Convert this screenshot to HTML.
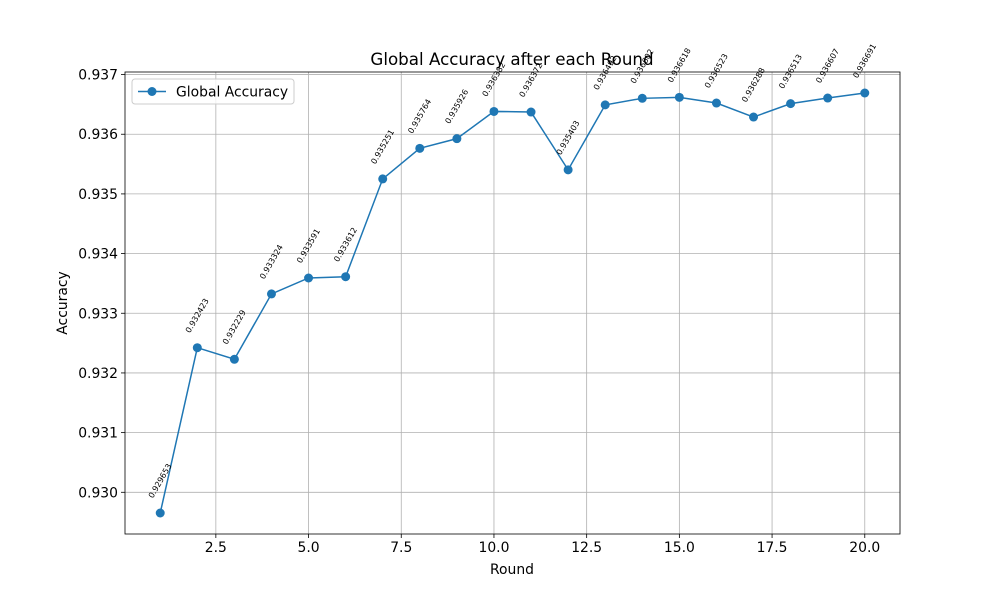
<!DOCTYPE html>
<html><head><meta charset="utf-8"><style>body{margin:0;background:#fff}svg{display:block;font-family:"DejaVu Sans","Liberation Sans",sans-serif}</style></head>
<body>
<svg id="chart" width="1000" height="600" viewBox="0 0 1000 600"></svg>
<script>
const rounds=[1,2,3,4,5,6,7,8,9,10,11,12,13,14,15,16,17,18,19,20];
const accuracy=[0.929653,0.932423,0.932229,0.933324,0.933591,0.933612,0.935251,0.935764,0.935926,0.936382,0.936372,0.935403,0.936492,0.936602,0.936618,0.936523,0.936288,0.936513,0.936607,0.936691];
const xTicks=[2.5,5.0,7.5,10.0,12.5,15.0,17.5,20.0];
const yTicks=[0.930,0.931,0.932,0.933,0.934,0.935,0.936,0.937];
const L=125,R=900,T=72,B=534;
const xMin=0.05,xMax=20.95;
const lo=Math.min(...accuracy),hi=Math.max(...accuracy),m=(hi-lo)*0.05;
const yMin=lo-m,yMax=hi+m;
const xs=v=>L+(v-xMin)/(xMax-xMin)*(R-L);
const ys=v=>B-(v-yMin)/(yMax-yMin)*(B-T);
const svg=document.getElementById('chart');
const NS='http://www.w3.org/2000/svg';
function mk(tag,attrs,parent){const e=document.createElementNS(NS,tag);for(const k in attrs)e.setAttribute(k,attrs[k]);(parent||svg).appendChild(e);return e;}
let e;
xTicks.forEach(t=>{const x=xs(t);
e=mk('line',{x1:x,x2:x,y1:T,y2:B,stroke:'#b0b0b0','stroke-width':0.8});


e=mk('line',{x1:x,x2:x,y1:B,y2:B+4,stroke:'#000','stroke-width':0.8});


e=mk('text',{x:x,y:B+18,'text-anchor':'middle','font-size':13.9});e.textContent=t.toFixed(1);

});
yTicks.forEach(t=>{const y=ys(t);
e=mk('line',{x1:L,x2:R,y1:y,y2:y,stroke:'#b0b0b0','stroke-width':0.8});


e=mk('line',{x1:L-4,x2:L,y1:y,y2:y,stroke:'#000','stroke-width':0.8});


e=mk('text',{x:L-7,y:y+5,'text-anchor':'end','font-size':13.9});e.textContent=t.toFixed(3);

});
e=mk('rect',{x:L,y:T,width:R-L,height:B-T,fill:'none',stroke:'#000','stroke-width':0.8});


e=mk('polyline',{points:rounds.map((r,i)=>xs(r)+','+ys(accuracy[i])).join(' '),fill:'none',stroke:'#1f77b4','stroke-width':1.5});


rounds.forEach((r,i)=>{const x=xs(r),y=ys(accuracy[i]);
e=mk('circle',{cx:x,cy:y,r:4.5,fill:'#1f77b4'});


const cy=y-32;
e=mk('text',{x:x,y:cy+2.5,'text-anchor':'middle','font-size':8,transform:`rotate(-60 ${x} ${cy})`});
e.textContent=accuracy[i].toFixed(6);

});
e=mk('text',{x:512,y:65,'text-anchor':'middle','font-size':16.7});e.textContent='Global Accuracy after each Round';


e=mk('text',{x:512,y:574,'text-anchor':'middle','font-size':13.9});e.textContent='Round';


e=mk('text',{x:0,y:0,'text-anchor':'middle','font-size':13.9,transform:'translate(67 303) rotate(-90)'});e.textContent='Accuracy';


const g=mk('g',{});


mk('rect',{x:132,y:79,width:162,height:25,rx:3,fill:'#fff','fill-opacity':0.8,stroke:'#ccc'},g);
mk('line',{x1:138,x2:166,y1:91.5,y2:91.5,stroke:'#1f77b4','stroke-width':1.5},g);
mk('circle',{cx:152,cy:91.5,r:4.5,fill:'#1f77b4'},g);
e=mk('text',{x:176,y:96.5,'font-size':13.9},g);e.textContent='Global Accuracy';


</script>
</body></html>
